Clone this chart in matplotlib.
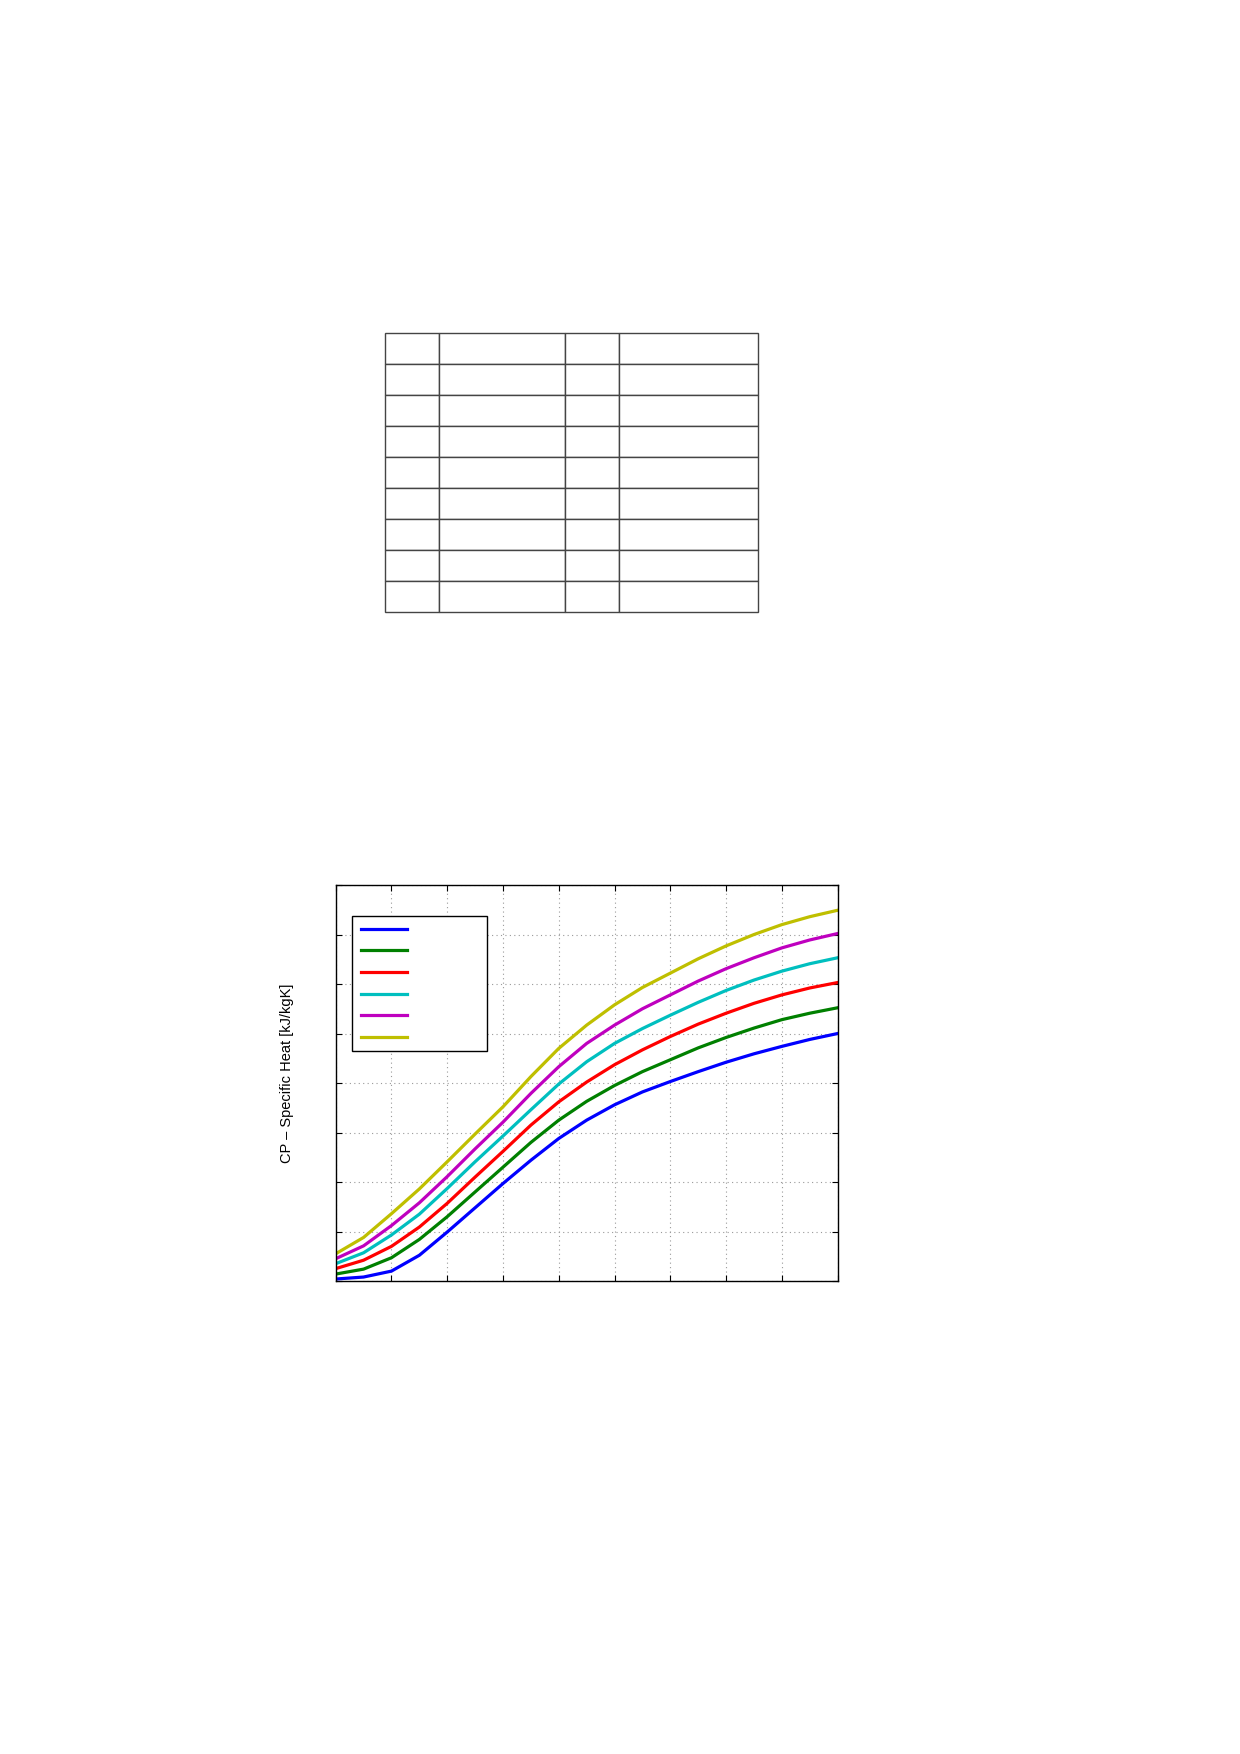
"""
Specific heat curves (CP) for six cases, with an empty data table above.
MATLAB-style page export: no tick labels, empty legend text.
"""

import matplotlib
matplotlib.use('Agg')
import matplotlib.pyplot as plt
import numpy as np

plt.rcParams['font.family'] = ['Liberation Sans', 'DejaVu Sans']

# Grid units (no tick labels in the reference)
X = [0, 0.5, 1, 1.5, 2, 2.5, 3, 3.5, 4, 4.5, 5, 5.5, 6, 6.5, 7, 7.5, 8, 8.5, 9]
CP_BLUE = [0.04, 0.08, 0.20, 0.52, 0.99, 1.48, 1.97, 2.44, 2.88, 3.25, 3.56,
           3.82, 4.03, 4.23, 4.42, 4.59, 4.74, 4.88, 5.00]
CP_GREEN = [0.14, 0.24, 0.47, 0.84, 1.30, 1.80, 2.30, 2.80, 3.25, 3.63, 3.95,
            4.23, 4.47, 4.71, 4.92, 5.11, 5.28, 5.41, 5.52]
CP_RED = [0.25, 0.42, 0.70, 1.09, 1.57, 2.10, 2.62, 3.15, 3.62, 4.02, 4.37,
          4.67, 4.94, 5.19, 5.41, 5.61, 5.78, 5.92, 6.03]
CP_CYAN = [0.35, 0.57, 0.93, 1.35, 1.87, 2.41, 2.93, 3.46, 3.98, 4.43, 4.80,
           5.10, 5.37, 5.63, 5.87, 6.08, 6.26, 6.41, 6.53]
CP_MAGENTA = [0.45, 0.71, 1.12, 1.58, 2.11, 2.67, 3.21, 3.79, 4.33, 4.80, 5.17,
              5.50, 5.78, 6.06, 6.31, 6.53, 6.73, 6.89, 7.02]
CP_YELLOW = [0.55, 0.88, 1.36, 1.86, 2.41, 2.97, 3.52, 4.13, 4.70, 5.17, 5.58,
             5.93, 6.22, 6.51, 6.77, 7.00, 7.20, 7.36, 7.49]

SERIES = [CP_BLUE, CP_GREEN, CP_RED, CP_CYAN, CP_MAGENTA, CP_YELLOW]
COLORS = ['#0000ff', '#008000', '#ff0000', '#00bfbf', '#bf00bf', '#bfbf00']

N_TABLE_ROWS = 9
N_TABLE_COLS = 4

W, H = 1240, 1754


def main():
    fig = plt.figure(figsize=(W / 100, H / 100), dpi=100)

    # Empty table (pixel box from the page)
    tx0, tx1, ty0, ty1 = 385, 757.7, 333.3, 612.3
    tax = fig.add_axes([tx0 / W, 1 - ty1 / H, (tx1 - tx0) / W, (ty1 - ty0) / H])
    tax.axis('off')
    col_px = np.array([54.3, 126.0, 53.7, 138.7])
    tab = tax.table(cellText=[[''] * N_TABLE_COLS for _ in range(N_TABLE_ROWS)],
                    colWidths=list(col_px / col_px.sum()), bbox=[0, 0, 1, 1])
    for cell in tab.get_celld().values():
        cell.set_edgecolor('#444444')
        cell.set_linewidth(1.0)

    # Main plot
    ax0, ax1, ay0, ay1 = 335.7, 837.7, 885, 1281
    ax = fig.add_axes([ax0 / W, 1 - ay1 / H, (ax1 - ax0) / W, (ay1 - ay0) / H])

    lines = []
    for ys, c in zip(SERIES, COLORS):
        ln, = ax.plot(X, ys, color=c, linewidth=2.3, solid_joinstyle='round')
        lines.append(ln)

    ax.set_xlim(0, 9)
    ax.set_ylim(0, 8)
    ax.set_xticks(np.arange(0, 10, 1))
    ax.set_yticks(np.arange(0, 9, 1))
    ax.tick_params(direction='in', top=True, right=True, length=4, width=0.8,
                   labelbottom=False, labelleft=False)
    ax.grid(True, color='#9a9a9a', linestyle=(0, (1, 3)), linewidth=0.8)
    for sp in ax.spines.values():
        sp.set_linewidth(1.0)

    ax.set_ylabel('CP – Specific Heat [kJ/kgK]', fontsize=10.5)
    ax.yaxis.set_label_coords(-0.083, 0.525)

    # Legend with no visible text, boxed MATLAB-like
    ax.legend(lines, [' '] * len(lines), loc='upper left',
              bbox_to_anchor=(0.0319, 0.921), borderaxespad=0,
              fontsize=6, borderpad=1.14, labelspacing=1.66,
              handlelength=5.52, handletextpad=8.1,
              fancybox=False, framealpha=1, edgecolor='black')
    ax.get_legend().get_frame().set_linewidth(1.0)
    for h in ax.get_legend().get_lines():
        h.set_linewidth(2.3)

    fig.savefig('out.png', dpi=100)


if __name__ == '__main__':
    main()
